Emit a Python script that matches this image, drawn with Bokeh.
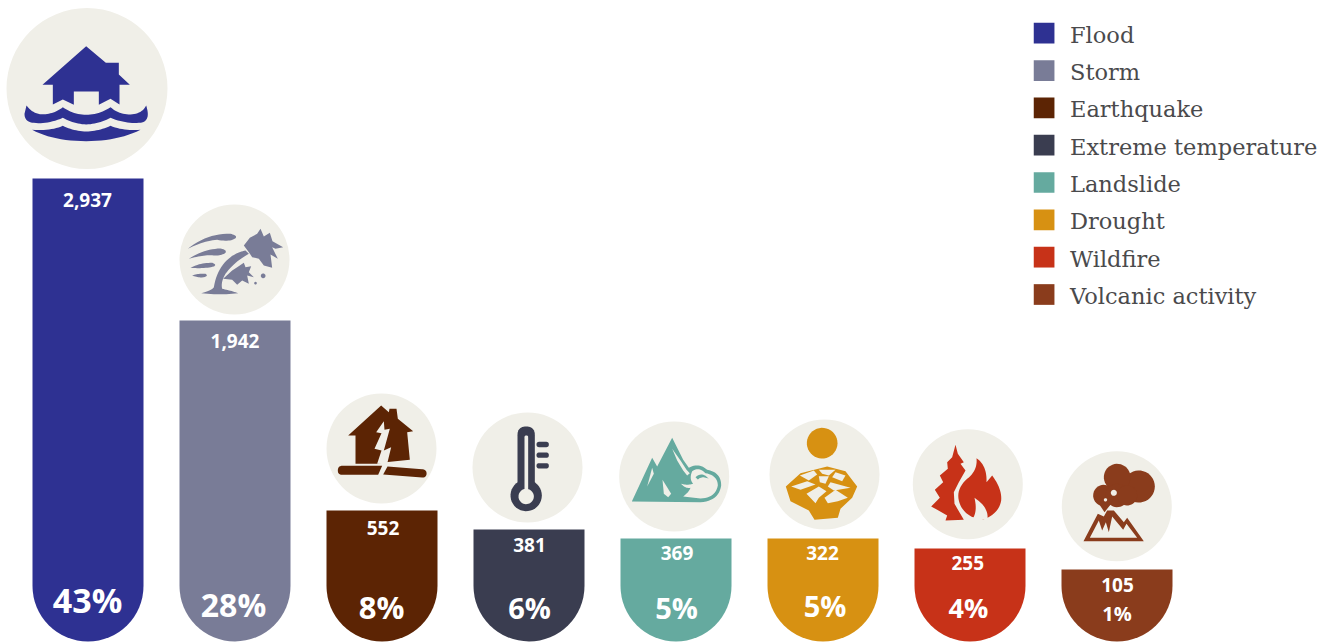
import re
import numpy as np
from bokeh.core.properties import value
from bokeh.embed import file_html
from bokeh.models import Range1d
from bokeh.plotting import figure
from bokeh.resources import INLINE

# ---- data ----
categories = ["Flood", "Storm", "Earthquake", "Extreme temperature",
              "Landslide", "Drought", "Wildfire", "Volcanic activity"]
counts = ["2,937", "1,942", "552", "381", "369", "322", "255", "105"]
shares = ["43%", "28%", "8%", "6%", "5%", "5%", "4%", "1%"]
# drawn bar length (the picture's bars are not proportional to the counts)
bar_length = [464, 322, 132, 113, 104, 104, 94, 73]
colors = ["#2e3192", "#797c97", "#5c2404", "#3a3d50",
          "#65aa9f", "#d79112", "#c73218", "#8a3c1c"]
CREAM = "#f0efe8"
W, H = 1330, 642
BAR_STEP, BAR_W, X0 = 147.0, 111.0, 87.5

p = figure(width=W, height=H, output_backend="svg", toolbar_location=None,
           x_range=Range1d(-X0 / BAR_STEP, (W - X0) / BAR_STEP),
           y_range=Range1d(0, H), min_border=0,
           outline_line_color=None, background_fill_color="white")
p.axis.visible = False
p.grid.visible = False
p.extra_x_ranges["px"] = Range1d(0, W)
p.extra_y_ranges["px"] = Range1d(H, 0)
PX = dict(x_range_name="px", y_range_name="px")


def flatten(path, ox, oy):
    """Turn a small M/L/Q path in 3x crop coordinates into a polygon."""
    toks = re.findall(r"[MLQZ]|-?[\d.]+", path)
    xs, ys, i, cmd = [], [], 0, None
    while i < len(toks):
        if toks[i] in "MLQZ":
            cmd = toks[i]
            i += 1
            if cmd == "Z":
                continue
        if cmd in "ML":
            xs.append(float(toks[i]))
            ys.append(float(toks[i + 1]))
            i += 2
            cmd = "L"
        else:
            cx, cy, ex, ey = map(float, toks[i:i + 4])
            i += 4
            sx, sy = xs[-1], ys[-1]
            for t in np.linspace(0, 1, 13)[1:]:
                xs.append((1 - t) ** 2 * sx + 2 * t * (1 - t) * cx + t ** 2 * ex)
                ys.append((1 - t) ** 2 * sy + 2 * t * (1 - t) * cy + t ** 2 * ey)
    return [ox + x / 3 for x in xs], [oy + y / 3 for y in ys]


def disc(cx, cy, r):
    pts = [(cx + r * np.cos(a), cy + r * np.sin(a)) for a in np.linspace(0, 2 * np.pi, 40)[:-1]]
    return "M" + " L".join(f"{x:.1f},{y:.1f}" for x, y in pts) + " Z"


def pill(x0, y0, x1, y1):
    r = min(x1 - x0, y1 - y0) / 2
    return (f"M{x0 + r},{y0} L{x1 - r},{y0} Q{x1},{y0} {x1},{y0 + r} L{x1},{y1 - r} Q{x1},{y1} {x1 - r},{y1} "
            f"L{x0 + r},{y1} Q{x0},{y1} {x0},{y1 - r} L{x0},{y0 + r} Q{x0},{y0} {x0 + r},{y0} Z")


A, B, C, D, E, F, G, I = colors
# each icon: (crop origin, [(colour, path), ...])
icons = [
    ((0, 0), [
        (A, "M257,137 L316,187 L355,187 L355,222 L388,253 L357,253 L357,312 L330,295 L295,313 L295,273 L220,273 L220,313 L187,297 L157,312 L157,253 L126,253 Z"),
        (A, "M78,315 Q100,345 135,341 Q165,338 187,320 Q220,343 257,343 Q295,343 330,320 Q355,342 390,342 Q425,340 437,315 Q445,340 440,352 Q435,367 415,367 Q375,370 330,352 Q295,370 257,372 Q220,370 187,352 Q140,372 100,367 Q72,365 72,340 Z"),
        (A, "M95,388 Q150,392 187,376 Q220,392 257,393 Q295,392 330,376 Q370,392 420,388 Q350,422 257,422 Q160,422 95,388 Z"),
    ]),
    ((0, 0), [
        (B, "M562,745 Q620,698 690,700 Q712,705 705,713 Q690,725 650,718 Q610,720 562,745 Z"),
        (B, "M565,775 Q610,745 660,744 Q680,748 675,757 Q660,768 630,764 Q600,765 565,775 Z"),
        (B, "M570,802 Q600,786 635,787 Q650,792 640,798 Q615,805 570,802 Z"),
        (B, "M575,825 Q595,818 615,820 Q625,826 610,830 Q595,833 575,825 Z"),
        (B, "M602,878 Q635,870 640,860 Q650,800 690,770 Q710,755 735,750 L745,760 Q700,785 675,820 Q660,845 665,865 Q690,870 713,878 Q660,885 602,878 Z"),
        (B, "M730,735 L748,712 L770,700 L780,685 L790,708 L808,697 L816,722 L848,740 L825,745 L815,740 L832,775 L810,762 L815,802 L790,795 L775,775 L755,770 L745,755 Z"),
        (B, "M668,835 L695,810 L710,800 L730,787 L735,800 L752,797 L745,815 L760,830 L740,825 L745,850 L725,840 L710,853 L695,838 Z"),
        (B, disc(788, 826, 7)),
        (B, disc(765, 848, 4)),
    ]),
    ((310, 380), [
        (C, "M212,75 L235,95 L237,85 L258,85 L262,115 L308,152 L290,155 L298,238 L225,245 L200,250 L135,250 L135,165 L113,165 Z"),
        (CREAM, "M220,122 L197,155 L213,158 L192,205 L213,210 L200,250 L230,250 L242,200 L220,210 L238,145 L222,148 Z"),
        (C, "M95,256 L215,256 L203,283 L95,283 Q82,283 82,270 Q82,256 95,256 Z"),
        (C, "M231,258 L335,266 Q350,268 348,282 Q345,292 335,291 L218,282 Z"),
    ]),
    ((310, 380), [
        (D, pill(621, 138, 673, 340)),
        (D, disc(647, 345, 47)),
        (CREAM, pill(642, 165, 653, 340)),
        (CREAM, disc(647, 348, 23)),
        (D, pill(678, 184, 715, 200)),
        (D, pill(678, 216, 715, 232)),
        (D, pill(678, 248, 715, 264)),
    ]),
    ((310, 380), [
        (E, "M964,363 L1025,232 L1040,258 L1085,172 L1118,238 L1135,262 Q1165,245 1190,268 Q1232,275 1232,315 Q1225,362 1170,365 Z"),
        (CREAM, "M1010,318 L1025,262 L1030,280 Z"),
        (CREAM, "M1056,298 L1082,340 L1073,350 L1060,340 Z"),
        (CREAM, "M1085,205 L1110,240 L1128,268 L1138,278 L1130,285 L1118,270 L1100,240 Z"),
        (CREAM, "M1145,272 Q1165,258 1185,278 Q1222,285 1222,315 Q1215,352 1170,354 L1118,348 Q1135,335 1140,322 Q1125,325 1112,310 Q1130,315 1148,310 Q1135,295 1145,272 Z"),
        (E, "M1155,290 Q1175,272 1195,295 Q1175,285 1162,297 Z"),
    ]),
    ((750, 410), [
        (F, disc(215, 98, 46)),
        (F, "M106,228 L150,188 L230,168 L285,182 L320,228 L305,262 L270,295 L262,322 L192,328 L175,300 L120,272 Z"),
        (CREAM, "M148,195 L190,180 L200,192 L175,210 Z"),
        (CREAM, "M205,178 L255,178 L235,195 L215,190 Z"),
        (CREAM, "M255,185 L285,195 L275,212 L245,200 Z"),
        (CREAM, "M205,197 L235,197 L225,220 L208,215 Z"),
        (CREAM, "M122,228 L170,212 L195,222 L150,238 Z"),
        (CREAM, "M240,215 L300,232 L250,240 L232,228 Z"),
        (CREAM, "M168,250 L205,228 L228,242 L205,262 L195,278 Z"),
        (CREAM, "M222,262 L255,238 L292,262 L262,272 L232,278 Z"),
    ]),
    ((750, 410), [
        (G, "M615,103 L622,130 L640,155 L630,160 L645,180 L625,215 L610,245 L612,280 L640,328 L585,330 L590,315 L560,298 L542,288 L568,262 L553,238 L578,215 L568,195 L592,175 L590,155 L605,140 Z"),
        (G, "M678,143 Q710,165 708,215 L725,195 Q755,235 752,270 Q745,310 700,326 Q650,325 630,285 Q610,240 650,205 Q682,180 678,143 Z"),
        (CREAM, "M672,262 Q715,290 711,326 L665,326 Q682,305 672,262 Z"),
    ]),
    ((750, 410), [
        (I, disc(1165, 228, 48)),
        (I, disc(1100, 200, 40)),
        (I, disc(1060, 255, 32)),
        (I, disc(1100, 255, 35)),
        (I, disc(1130, 255, 30)),
        (I, "M1035,265 L1062,305 L1078,285 L1090,265 Z"),
        (CREAM, disc(1090, 247, 9)),
        (CREAM, disc(1065, 268, 5)),
        (I, "M999,392 L1042,310 L1060,318 L1070,300 L1090,300 L1120,335 L1130,322 L1180,392 Z"),
        (CREAM, "M1018,382 L1045,330 L1055,360 L1066,335 L1075,365 L1085,318 L1118,358 L1128,340 L1160,382 Z"),
    ]),
]

# icon discs behind the bars
disc_x = [86.5, 234, 381, 527, 673.7, 824, 967.3, 1116.3]
disc_y = [88, 259, 448, 467, 476, 474, 483.7, 505.7]
disc_r = [80.5, 55, 55, 55, 55, 55, 55, 55]
p.circle(disc_x, disc_y, radius=disc_r, fill_color=CREAM, line_color=None, **PX)

xs, ys, cs = [], [], []
for (ox, oy), parts in icons:
    for col, path in parts:
        a, b = flatten(path, ox, oy)
        xs.append(a)
        ys.append(b)
        cs.append(col)
p.patches(xs, ys, fill_color=cs, line_color=None, **PX)

# bars: straight part, then a half-round foot
idx = list(range(len(categories)))
FOOT = BAR_W / 2
p.vbar(x=idx, width=BAR_W / BAR_STEP, bottom=FOOT + 1, top=bar_length,
       fill_color=colors, line_color=None)
p.wedge(x=idx, y=FOOT + 1, radius=FOOT, radius_units="screen", start_angle=np.pi,
        end_angle=2 * np.pi, fill_color=colors, line_color=None)

# labels on the bars
count_x = [87, 234.5, 382.5, 529, 676.5, 822, 967.3, 1117]
count_y = [199, 340, 527, 544, 552.7, 552.5, 562, 584]
share_x = [87, 233, 381, 529, 676, 824.5, 968, 1116.5]
share_y = [599, 604, 606, 607, 607, 605, 607, 613]
share_size = ["34px", "32px", "31px", "29px", "29px", "29px", "27px", "20px"]
p.text(count_x, count_y, text=counts, text_align="center", text_baseline="middle",
       text_color="#ffffff", text_font=value("Open Sans"), text_font_style="bold",
       text_font_size="19px", **PX)
p.text(share_x, share_y, text=shares, text_align="center", text_baseline="middle",
       text_color="#ffffff", text_font=value("Open Sans"), text_font_style="bold",
       text_font_size=share_size, **PX)

# legend
leg_y = [32.7 + 37.33 * i for i in idx]
p.rect([1043.6] * 8, leg_y, width=20.7, height=20.7, fill_color=colors, line_color=None, **PX)
p.text([1069.5] * 8, [y + 1.5 for y in leg_y], text=categories, text_align="left",
       text_baseline="middle", text_color="#4a4a4c",
       text_font=value("DejaVu Serif"), text_font_size="22.5px", **PX)

open("out.html", "w").write(file_html(p, INLINE))
